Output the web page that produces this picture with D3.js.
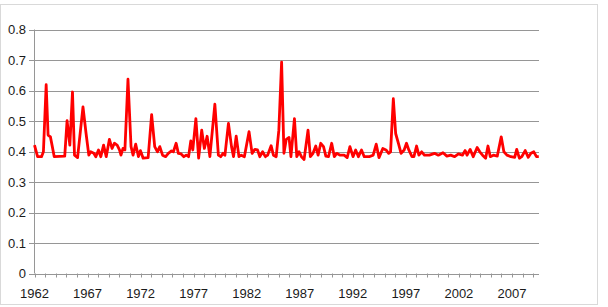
<!DOCTYPE html>
<html><head><meta charset="utf-8">
<script src="https://cdn.jsdelivr.net/npm/d3@7"></script>
<style>body{margin:0;background:#fff}svg{display:block}</style>
</head><body>
<script>
// time (decimal year) and value readings
const times = [1962.0,1962.29,1962.66,1962.84,1963.10,1963.28,1963.50,1963.68,1963.86,1964.85,1965.07,1965.33,1965.58,1965.77,1966.06,1966.57,1966.86,1967.12,1967.30,1967.59,1967.78,1968.03,1968.25,1968.51,1968.76,1969.06,1969.31,1969.53,1969.79,1970.01,1970.15,1970.34,1970.52,1970.81,1971.10,1971.29,1971.54,1971.80,1971.98,1972.24,1972.71,1973.04,1973.33,1973.59,1973.81,1974.07,1974.36,1974.61,1974.91,1975.09,1975.35,1975.56,1975.82,1976.08,1976.30,1976.52,1976.73,1976.92,1977.21,1977.47,1977.76,1978.01,1978.27,1978.53,1979.00,1979.33,1979.55,1979.77,1979.95,1980.28,1980.57,1980.76,1981.01,1981.27,1981.49,1981.78,1982.22,1982.51,1982.77,1983.02,1983.24,1983.50,1983.76,1983.97,1984.30,1984.52,1984.78,1985.03,1985.29,1985.51,1985.73,1985.99,1986.17,1986.50,1986.72,1986.94,1987.16,1987.41,1987.78,1988.00,1988.25,1988.51,1988.73,1988.98,1989.24,1989.46,1989.71,1990.01,1990.26,1990.48,1990.81,1991.18,1991.47,1991.73,1992.02,1992.27,1992.53,1992.82,1993.08,1993.55,1993.92,1994.21,1994.47,1994.83,1995.13,1995.38,1995.56,1995.82,1996.04,1996.30,1996.55,1996.84,1997.06,1997.28,1997.58,1997.76,1998.01,1998.23,1998.49,1998.75,1999.22,1999.70,2000.06,2000.50,2000.87,2001.23,2001.60,2001.96,2002.33,2002.59,2002.77,2003.06,2003.35,2003.72,2003.97,2004.23,2004.52,2004.74,2004.96,2005.25,2005.62,2005.99,2006.24,2006.53,2006.90,2007.26,2007.45,2007.70,2007.92,2008.25,2008.54,2008.79,2009.06,2009.31,2009.53];
const values = [0.421,0.383,0.383,0.399,0.619,0.454,0.448,0.416,0.383,0.385,0.501,0.421,0.595,0.388,0.380,0.546,0.459,0.388,0.399,0.394,0.383,0.405,0.383,0.421,0.383,0.440,0.410,0.427,0.421,0.405,0.388,0.410,0.405,0.637,0.416,0.388,0.424,0.383,0.403,0.378,0.380,0.521,0.416,0.399,0.416,0.388,0.383,0.394,0.402,0.399,0.427,0.394,0.392,0.383,0.388,0.383,0.435,0.405,0.508,0.378,0.470,0.410,0.450,0.383,0.555,0.388,0.383,0.394,0.388,0.492,0.416,0.383,0.450,0.383,0.388,0.383,0.465,0.394,0.407,0.405,0.383,0.399,0.383,0.388,0.419,0.388,0.383,0.470,0.693,0.394,0.440,0.446,0.383,0.508,0.383,0.399,0.383,0.374,0.470,0.383,0.394,0.418,0.388,0.427,0.416,0.385,0.383,0.427,0.383,0.394,0.388,0.388,0.380,0.416,0.383,0.405,0.383,0.405,0.383,0.383,0.388,0.424,0.380,0.410,0.405,0.394,0.399,0.573,0.459,0.427,0.394,0.405,0.427,0.405,0.383,0.383,0.418,0.388,0.399,0.388,0.388,0.394,0.388,0.396,0.385,0.388,0.383,0.392,0.388,0.403,0.388,0.407,0.383,0.413,0.399,0.388,0.378,0.418,0.383,0.388,0.385,0.448,0.399,0.388,0.383,0.381,0.407,0.378,0.383,0.403,0.381,0.394,0.399,0.383,0.383];
const yTicks = [0,0.1,0.2,0.3,0.4,0.5,0.6,0.7,0.8];
const yearLabels = [1962,1967,1972,1977,1982,1987,1992,1997,2002,2007];
const yearTicks = d3.range(1962, 2010);

const W = 608, H = 307;
const svg = d3.select("body").append("svg").attr("width", W).attr("height", H);
svg.append("rect").attr("x",0.5).attr("y",4.5).attr("width",597).attr("height",300)
  .attr("fill","#fff").attr("stroke","#d9d9d9").attr("stroke-width",1);

const x = d3.scaleLinear().domain([1962, 2009.55]).range([34.5, 539]);
const y = d3.scaleLinear().domain([0, 0.8]).range([273.5, 29.5]);

const font = "Liberation Sans, Arial, sans-serif";
// gridlines
svg.append("g").selectAll("line").data(yTicks).join("line")
  .attr("x1", 29).attr("x2", x.range()[1])
  .attr("y1", d => Math.round(y(d)) + 0.5).attr("y2", d => Math.round(y(d)) + 0.5)
  .attr("stroke", "#969696").attr("stroke-width", 1);
// y labels
svg.append("g").selectAll("text").data(yTicks).join("text")
  .attr("x", 26).attr("y", d => y(d)).attr("dy", "0.35em")
  .attr("text-anchor", "end").attr("font-family", font).attr("font-size", 13)
  .attr("fill", "#1a1a1a").text(d => d === 0 ? "0" : d3.format(".1f")(d));
// y axis line
svg.append("line").attr("x1", 34.5).attr("x2", 34.5).attr("y1", y(0.8)).attr("y2", y(0))
  .attr("stroke", "#969696");
// x ticks
svg.append("g").selectAll("line").data(yearTicks).join("line")
  .attr("x1", d => Math.round(x(d)) + 0.5).attr("x2", d => Math.round(x(d)) + 0.5)
  .attr("y1", y(0)).attr("y2", y(0) + 4).attr("stroke", "#969696");
svg.append("g").selectAll("text").data(yearLabels).join("text")
  .attr("x", d => x(d)).attr("y", 293).attr("dy", "0.35em")
  .attr("text-anchor", "middle").attr("font-family", font).attr("font-size", 13)
  .attr("fill", "#1a1a1a").text(d => d);

const line = d3.line().x((d, i) => x(times[i])).y(d => y(d));
svg.append("path").datum(values).attr("d", line)
  .attr("fill", "none").attr("stroke", "#ff0000").attr("stroke-width", 2.8)
  .attr("stroke-linejoin", "round");
</script>
</body></html>
